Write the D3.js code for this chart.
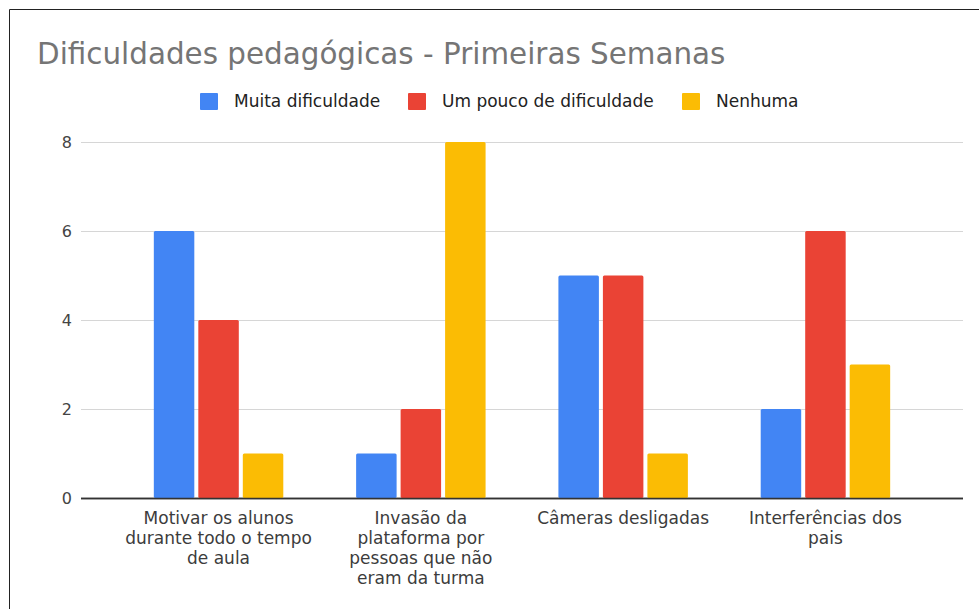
<!DOCTYPE html>
<html>
<head>
<meta charset="utf-8">
<script src="https://cdn.jsdelivr.net/npm/d3@7"></script>
<style>
  body { margin: 0; background: #fff; }
  text { font-family: "DejaVu Sans", Arial, sans-serif; }
</style>
</head>
<body>
<div id="chart"></div>
<script>
// chart data
var categories = ["Motivar os alunos\ndurante todo o tempo\nde aula",
                  "Invasão da\nplataforma por\npessoas que não\neram da turma",
                  "Câmeras desligadas",
                  "Interferências dos\npais"];
var seriesNames = ["Muita dificuldade", "Um pouco de dificuldade", "Nenhuma"];
var muita = [6, 1, 5, 2];
var umPouco = [4, 2, 5, 6];
var nenhuma = [1, 8, 1, 3];
var yTicks = [0, 2, 4, 6, 8];
var colors = ["#4285F4", "#EA4335", "#FBBC04"];

var values = [muita, umPouco, nenhuma];

var width = 979, height = 609;
var plot = {left: 81, right: 963, top: 142, bottom: 498};

var svg = d3.select("#chart").append("svg")
    .attr("width", width)
    .attr("height", height);

// frame (only top and left edges visible in the crop)
svg.append("path")
   .attr("d", "M9.5," + height + "V9.5H" + width)
   .attr("fill", "none")
   .attr("stroke", "#222")
   .attr("stroke-width", 1);

svg.append("text")
   .attr("x", 37)
   .attr("y", 64)
   .attr("font-size", 29.4)
   .attr("fill", "#757575")
   .text("Dificuldades pedagógicas - Primeiras Semanas");

var y = d3.scaleLinear().domain([0, 8]).range([plot.bottom, plot.top]);

var x0 = d3.scaleBand()
    .domain(categories)
    .range([plot.left, plot.right])
    .padding(0.36);

var x1 = d3.scaleBand()
    .domain(seriesNames)
    .range([0, x0.bandwidth()])
    .paddingInner(0.09);

// gridlines + y labels
var yAxis = svg.append("g")
    .attr("transform", "translate(" + plot.left + ",0)")
    .call(d3.axisLeft(y).tickValues(yTicks).tickSize(-(plot.right - plot.left)).tickPadding(9));
yAxis.select(".domain").remove();
yAxis.selectAll(".tick line")
     .attr("stroke", function(d) { return d === 0 ? "#333" : "#d6d6d6"; })
     .attr("stroke-width", function(d) { return d === 0 ? 1.3 : 1; });
yAxis.selectAll(".tick text")
     .attr("font-size", 16)
     .attr("fill", "#444")
     .style("font-family", "'DejaVu Sans', Arial, sans-serif");

// bars
var groups = svg.append("g").selectAll("g")
    .data(categories)
    .enter().append("g")
    .attr("transform", function(d) { return "translate(" + x0(d) + ",0)"; });

groups.selectAll("rect")
    .data(function(d, i) { return seriesNames.map(function(s, j) { return {s: s, v: values[j][i], c: colors[j]}; }); })
    .enter().append("rect")
    .attr("x", function(d) { return x1(d.s); })
    .attr("y", function(d) { return y(d.v); })
    .attr("width", x1.bandwidth())
    .attr("height", function(d) { return y(0) - y(d.v); })
    .attr("rx", 1.5)
    .attr("fill", function(d) { return d.c; });

// redraw baseline on top of bars
svg.append("line")
   .attr("x1", plot.left).attr("x2", plot.right)
   .attr("y1", y(0) + 0.5).attr("y2", y(0) + 0.5)
   .attr("stroke", "#333").attr("stroke-width", 1.3);

// x labels
var xl = svg.append("g").selectAll("text")
    .data(categories)
    .enter().append("text")
    .attr("text-anchor", "middle")
    .attr("font-size", 17)
    .attr("fill", "#3c3c3c")
    .attr("x", function(d) { return x0(d) + x0.bandwidth() / 2; })
    .attr("y", 524);
xl.each(function(d) {
    var t = d3.select(this);
    d.split("\n").forEach(function(line, i) {
        t.append("tspan")
         .attr("x", x0(d) + x0.bandwidth() / 2)
         .attr("dy", i === 0 ? 0 : 20)
         .text(line);
    });
});

// legend
var legendX = [200, 408, 682];
var legend = svg.append("g").selectAll("g")
    .data(seriesNames)
    .enter().append("g")
    .attr("transform", function(d, i) { return "translate(" + legendX[i] + ",93)"; });
legend.append("rect")
    .attr("width", 18).attr("height", 17).attr("rx", 1)
    .attr("fill", function(d, i) { return colors[i]; });
legend.append("text")
    .attr("x", 34).attr("y", 14)
    .attr("font-size", 17)
    .attr("fill", "#222")
    .text(function(d) { return d; });
</script>
</body>
</html>
